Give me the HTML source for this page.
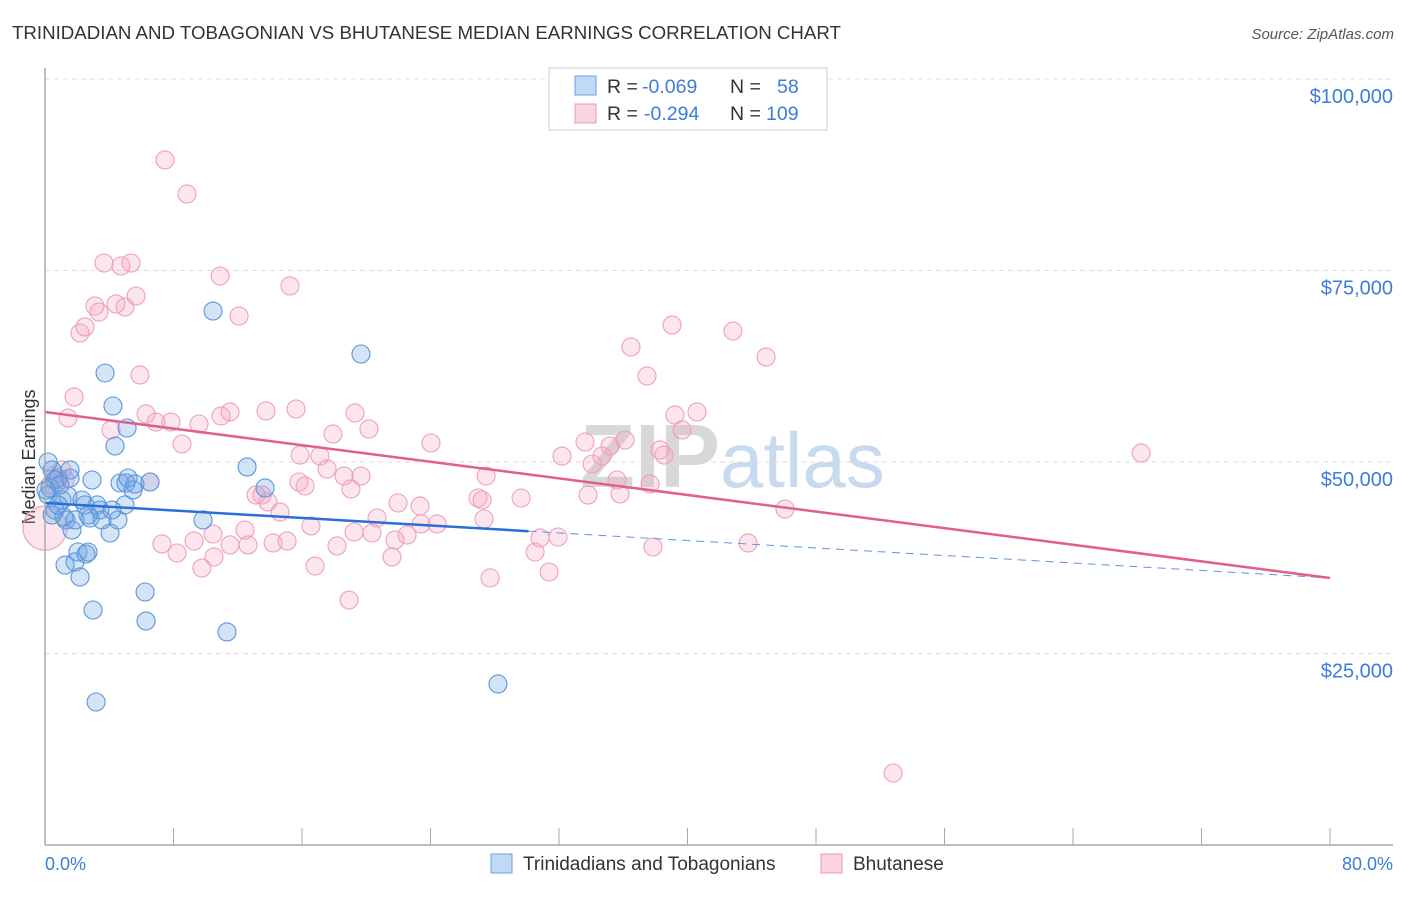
<!DOCTYPE html>
<html><head><meta charset="utf-8"><style>
body{margin:0;background:#fff;font-family:"Liberation Sans",sans-serif}
svg text{font-family:"Liberation Sans",sans-serif}
</style></head><body>
<svg id="c" width="1406" height="892">
<text x="12" y="39" font-size="18.7" fill="#333">TRINIDADIAN AND TOBAGONIAN VS BHUTANESE MEDIAN EARNINGS CORRELATION CHART</text>
<text x="1394" y="39" font-size="15" fill="#555" font-style="italic" text-anchor="end">Source: ZipAtlas.com</text>
<text x="35" y="457" font-size="18" fill="#333" text-anchor="middle" transform="rotate(-90 35 457)">Median Earnings</text>
<text x="720" y="487" font-size="90" fill="#d8d8d8" text-anchor="end" font-family="Liberation Serif" font-weight="bold">ZIP</text>
<text x="720" y="487" font-size="78" fill="#c8daf0">atlas</text>
<g id="grid"></g><g id="pts"></g><g id="lines"></g>
<line x1="45" y1="68" x2="45" y2="845" stroke="#aaa" stroke-width="1.5"/>
<line x1="45" y1="845" x2="1393" y2="845" stroke="#aaa" stroke-width="1.5"/>
<text x="45" y="870" font-size="18" fill="#3b7dd8">0.0%</text>
<text x="1393" y="870" font-size="18" fill="#3b7dd8" text-anchor="end">80.0%</text>
<g>
<rect x="549" y="68" width="278" height="62" fill="#fff" stroke="#ccc"/>
<rect x="575" y="76" width="21" height="19" fill="rgba(120,170,235,0.45)" stroke="#6aa0e0"/>
<rect x="575" y="104" width="21" height="19" fill="rgba(245,160,190,0.45)" stroke="#eb9ab5"/>
<text y="93" font-size="19.5" fill="#333"><tspan x="607">R =</tspan><tspan x="642" fill="#3b7dd8">-0.069</tspan><tspan x="730">N =</tspan><tspan x="777" fill="#3b7dd8">58</tspan></text>
<text y="120" font-size="19.5" fill="#333"><tspan x="607">R =</tspan><tspan x="644" fill="#3b7dd8">-0.294</tspan><tspan x="730">N =</tspan><tspan x="766" fill="#3b7dd8">109</tspan></text>
</g>
<g>
<rect x="491" y="854" width="21" height="19" fill="rgba(120,170,235,0.45)" stroke="#6aa0e0"/>
<text x="523" y="870" font-size="19" fill="#333">Trinidadians and Tobagonians</text>
<rect x="821" y="854" width="21" height="19" fill="rgba(245,160,190,0.45)" stroke="#eb9ab5"/>
<text x="853" y="870" font-size="19" fill="#333">Bhutanese</text>
</g>
</svg>
<script>
const yTicks=[25000,50000,75000,100000];
const yTickLabels=["$25,000","$50,000","$75,000","$100,000"];
const xTicks=[0,8,16,24,32,40,48,56,64,72,80];
const blueX=[0.19,0.44,0.62,0.81,0.31,0.19,1.06,0.62,1.31,1.18,1.56,1.43,1.68,1.87,2.05,2.18,2.68,2.93,2.80,3.24,3.42,3.74,4.23,4.36,4.54,4.67,5.04,5.17,4.98,5.11,5.48,5.60,6.54,6.23,6.29,2.99,3.18,9.84,10.46,11.33,12.58,13.70,19.67,28.20,2.49,4.05,3.55,0.93,1.56,2.30,2.68,4.17,2.55,1.25,0.44,0.06,0.81,1.87];
const blueY=[50000,48960,47650,47910,46610,45690,45040,43730,42430,42820,47910,45560,41120,36950,38250,34990,38250,47650,42690,44390,43730,61620,57310,52090,42430,47260,47260,47910,44390,54440,46350,47130,47390,33030,29240,30680,18670,42430,69710,27810,49350,46610,64100,21020,44390,40730,42430,47000,48960,45040,43080,43730,37990,36550,43080,46350,44390,42430];
const pinkX=[7.47,8.84,3.67,4.73,5.35,10.90,15.25,5.67,3.11,4.42,4.98,3.36,2.49,2.18,12.08,5.91,1.81,1.43,6.29,6.91,7.84,9.59,8.53,10.96,11.52,13.76,15.63,19.30,17.93,20.17,24.03,4.11,0,1.06,0.62,0.81,0.31,1.25,6.54,17.12,17.56,18.62,19.67,19.05,15.81,16.19,13.14,13.51,13.88,14.63,16.56,20.67,21.98,23.35,27.46,29.64,26.96,27.21,27.33,23.41,24.41,22.54,21.79,19.24,20.36,12.45,10.46,11.52,12.64,14.20,15.07,18.18,9.28,7.28,8.22,10.52,9.77,16.81,21.60,27.71,18.93,30.51,30.82,31.94,31.38,32.19,33.81,33.62,34.06,34.68,35.18,36.11,35.61,35.80,36.48,37.48,38.29,38.54,39.04,39.22,39.66,40.59,37.67,37.85,42.83,44.89,43.77,46.07,68.24,52.80,15.88];
const pinkY=[89430,84990,75980,75590,75980,74280,72980,71670,70370,70630,70240,69580,67630,66840,69060,61360,58490,55740,56270,55220,55220,54960,52350,56010,56530,56660,56920,56400,53660,54310,52480,54180,41380,48960,48300,47650,47000,47650,47390,50780,49090,48170,48170,46480,47390,46870,45690,45690,44780,43470,41650,42690,44650,44260,48170,45300,45300,45040,42560,41910,41910,40470,39820,40860,40730,41120,40600,39170,39170,39430,39690,39040,39690,39300,38120,37600,36160,36420,37600,34860,31980,38250,40080,40210,35640,50780,45690,52610,49740,50780,52090,52870,47650,45820,65010,61230,51570,50910,67890,56140,54180,56530,47130,38900,67100,63710,39430,43860,51180,9400,50910];
const blueTrend=[44650,34860]; const blueSolidEnd=30.1;
const pinkTrend=[56530,34860];
const NS='http://www.w3.org/2000/svg';
const xs=v=>45+v/80*1285, ys=v=>845-v/25000*191.5;
function mk(tag,attrs,parent){const e=document.createElementNS(NS,tag);for(const k in attrs)e.setAttribute(k,attrs[k]);document.getElementById(parent).appendChild(e);return e;}
yTicks.forEach((t,i)=>{
 const l=mk('line',{x1:45,x2:1393,y1:ys(t),y2:ys(t),stroke:'#ddd','stroke-dasharray':'5,4'},'grid');
 
 
 const tx=mk('text',{x:1393,y:ys(t)+24,'font-size':20,fill:'#3b7dd8','text-anchor':'end'},'grid');
 tx.textContent=yTickLabels[i];
 
 
});
xTicks.forEach(t=>{
 const l=mk('line',{x1:xs(t),x2:xs(t),y1:828,y2:845,stroke:'#aaa'},'grid');
 
 
});
pinkX.forEach((x,i)=>{
 const c=mk('circle',{cx:xs(x),cy:ys(pinkY[i]),r:(x===0?22:9),fill:'rgba(245,160,190,0.28)',stroke:'#eda0b9','stroke-width':1.1},'pts');
 
 
});
blueX.forEach((x,i)=>{
 const c=mk('circle',{cx:xs(x),cy:ys(blueY[i]),r:9,fill:'rgba(110,165,230,0.3)',stroke:'#5b95dc','stroke-width':1.1},'pts');
 
 
});
const by=x=>blueTrend[0]+(blueTrend[1]-blueTrend[0])*x/80;
let l1=mk('line',{x1:xs(0),y1:ys(blueTrend[0]),x2:xs(blueSolidEnd),y2:ys(by(blueSolidEnd)),stroke:'#2a6fd6','stroke-width':2.5},'lines');


let l2=mk('line',{x1:xs(blueSolidEnd),y1:ys(by(blueSolidEnd)),x2:xs(80),y2:ys(blueTrend[1]),stroke:'#5b95dc','stroke-width':1,'stroke-dasharray':'8,6'},'lines');


let l3=mk('line',{x1:xs(0),y1:ys(pinkTrend[0]),x2:xs(80),y2:ys(pinkTrend[1]),stroke:'#e0608a','stroke-width':2.5},'lines');


</script>
</body></html>
